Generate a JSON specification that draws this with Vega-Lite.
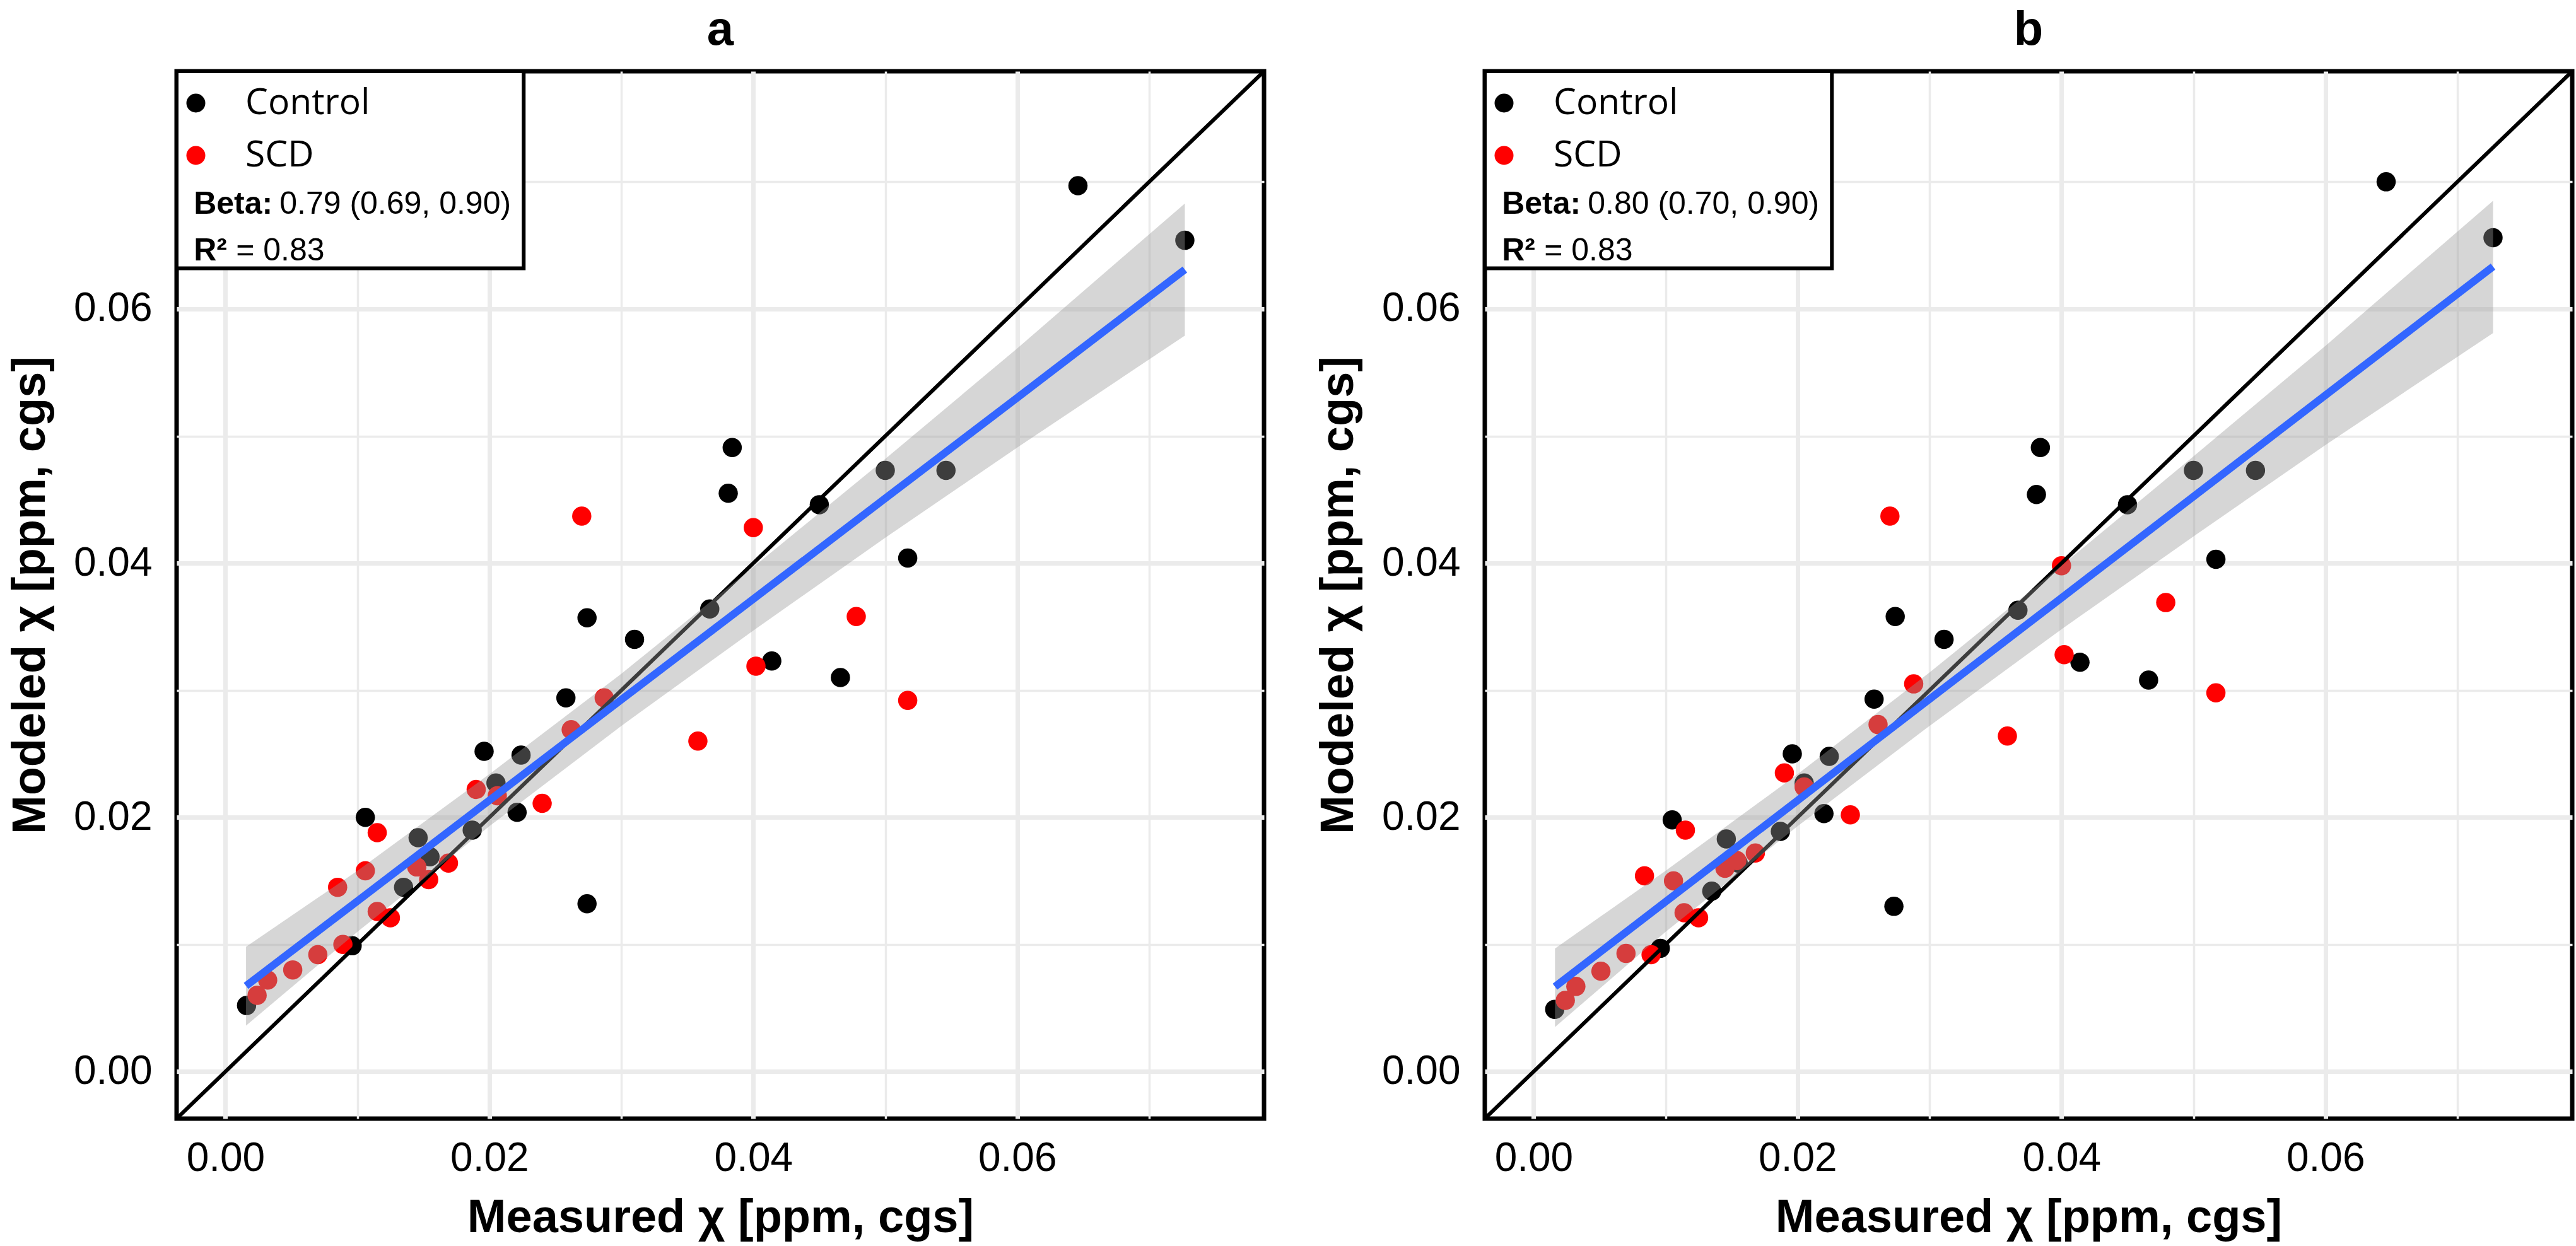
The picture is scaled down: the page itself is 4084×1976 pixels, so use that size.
{
  "$schema": "https://vega.github.io/schema/vega-lite/v6.json",
  "background": "white",
  "padding": {"left": 7, "top": 6, "right": 5, "bottom": 0},
  "config": {
    "view": {"stroke": "black", "strokeWidth": 7},
    "axis": {"domain": false, "ticks": false, "labelFont": "Liberation Sans", "labelFontSize": 64, "labelColor": "black", "titleFont": "Liberation Sans", "titleFontSize": 74, "titleFontWeight": "bold", "titleColor": "black", "gridColor": "#EBEBEB", "labelOverlap": false, "labelFlush": false},
    "title": {"font": "Liberation Sans", "fontSize": 76, "fontWeight": "bold", "color": "black", "anchor": "middle", "baseline": "alphabetic", "offset": 23},
    "legend": {"symbolType": "circle", "symbolSize": 900, "symbolStrokeWidth": 0, "symbolOpacity": 1, "labelFont": "Open Sans", "labelFontSize": 57, "labelColor": "black", "labelOffset": 50, "labelLimit": 1000, "rowPadding": 25, "padding": 0}
  },
  "datasets": {
    "pa": [
      {"group": "Control", "x": 0.0016, "y": 0.0052}, {"group": "Control", "x": 0.0096, "y": 0.0099}, {"group": "Control", "x": 0.0106, "y": 0.0200}, {"group": "Control", "x": 0.0146, "y": 0.0184}, {"group": "Control", "x": 0.0135, "y": 0.0145}, {"group": "Control", "x": 0.0155, "y": 0.0169}, {"group": "Control", "x": 0.0187, "y": 0.0190}, {"group": "Control", "x": 0.0196, "y": 0.0252}, {"group": "Control", "x": 0.0205, "y": 0.0227}, {"group": "Control", "x": 0.0221, "y": 0.0204}, {"group": "Control", "x": 0.0224, "y": 0.0249}, {"group": "Control", "x": 0.0258, "y": 0.0294}, {"group": "Control", "x": 0.0274, "y": 0.0357}, {"group": "Control", "x": 0.0274, "y": 0.0132}, {"group": "Control", "x": 0.0310, "y": 0.0340}, {"group": "Control", "x": 0.0367, "y": 0.0364}, {"group": "Control", "x": 0.0381, "y": 0.0455}, {"group": "Control", "x": 0.0384, "y": 0.0491}, {"group": "Control", "x": 0.0414, "y": 0.0323}, {"group": "Control", "x": 0.0450, "y": 0.0446}, {"group": "Control", "x": 0.0466, "y": 0.0310}, {"group": "Control", "x": 0.0500, "y": 0.0473}, {"group": "Control", "x": 0.0517, "y": 0.0404}, {"group": "Control", "x": 0.0546, "y": 0.0473}, {"group": "Control", "x": 0.0646, "y": 0.0697}, {"group": "Control", "x": 0.0727, "y": 0.0654},
      {"group": "SCD", "x": 0.0024, "y": 0.0060}, {"group": "SCD", "x": 0.0032, "y": 0.0072}, {"group": "SCD", "x": 0.0051, "y": 0.0080}, {"group": "SCD", "x": 0.0070, "y": 0.0092}, {"group": "SCD", "x": 0.0085, "y": 0.0145}, {"group": "SCD", "x": 0.0089, "y": 0.0100}, {"group": "SCD", "x": 0.0106, "y": 0.0158}, {"group": "SCD", "x": 0.0115, "y": 0.0188}, {"group": "SCD", "x": 0.0115, "y": 0.0126}, {"group": "SCD", "x": 0.0125, "y": 0.0121}, {"group": "SCD", "x": 0.0145, "y": 0.0161}, {"group": "SCD", "x": 0.0154, "y": 0.0151}, {"group": "SCD", "x": 0.0169, "y": 0.0164}, {"group": "SCD", "x": 0.0190, "y": 0.0222}, {"group": "SCD", "x": 0.0206, "y": 0.0217}, {"group": "SCD", "x": 0.0240, "y": 0.0211}, {"group": "SCD", "x": 0.0262, "y": 0.0269}, {"group": "SCD", "x": 0.0270, "y": 0.0437}, {"group": "SCD", "x": 0.0287, "y": 0.0294}, {"group": "SCD", "x": 0.0358, "y": 0.0260}, {"group": "SCD", "x": 0.0400, "y": 0.0428}, {"group": "SCD", "x": 0.0402, "y": 0.0319}, {"group": "SCD", "x": 0.0478, "y": 0.0358}, {"group": "SCD", "x": 0.0517, "y": 0.0292}
    ],
    "pb": [
      {"group": "Control", "x": 0.0016, "y": 0.0049}, {"group": "Control", "x": 0.0096, "y": 0.0097}, {"group": "Control", "x": 0.0105, "y": 0.0198}, {"group": "Control", "x": 0.0146, "y": 0.0183}, {"group": "Control", "x": 0.0135, "y": 0.0142}, {"group": "Control", "x": 0.0155, "y": 0.0164}, {"group": "Control", "x": 0.0187, "y": 0.0189}, {"group": "Control", "x": 0.0196, "y": 0.0250}, {"group": "Control", "x": 0.0205, "y": 0.0227}, {"group": "Control", "x": 0.0220, "y": 0.0203}, {"group": "Control", "x": 0.0224, "y": 0.0248}, {"group": "Control", "x": 0.0258, "y": 0.0293}, {"group": "Control", "x": 0.0274, "y": 0.0358}, {"group": "Control", "x": 0.0273, "y": 0.0130}, {"group": "Control", "x": 0.0311, "y": 0.0340}, {"group": "Control", "x": 0.0367, "y": 0.0363}, {"group": "Control", "x": 0.0381, "y": 0.0454}, {"group": "Control", "x": 0.0384, "y": 0.0491}, {"group": "Control", "x": 0.0414, "y": 0.0322}, {"group": "Control", "x": 0.0450, "y": 0.0446}, {"group": "Control", "x": 0.0466, "y": 0.0308}, {"group": "Control", "x": 0.0500, "y": 0.0473}, {"group": "Control", "x": 0.0517, "y": 0.0403}, {"group": "Control", "x": 0.0547, "y": 0.0473}, {"group": "Control", "x": 0.0646, "y": 0.0700}, {"group": "Control", "x": 0.0727, "y": 0.0656},
      {"group": "SCD", "x": 0.0024, "y": 0.0056}, {"group": "SCD", "x": 0.0032, "y": 0.0067}, {"group": "SCD", "x": 0.0051, "y": 0.0079}, {"group": "SCD", "x": 0.0070, "y": 0.0093}, {"group": "SCD", "x": 0.0084, "y": 0.0154}, {"group": "SCD", "x": 0.0089, "y": 0.0092}, {"group": "SCD", "x": 0.0106, "y": 0.0150}, {"group": "SCD", "x": 0.0115, "y": 0.0190}, {"group": "SCD", "x": 0.0114, "y": 0.0125}, {"group": "SCD", "x": 0.0125, "y": 0.0121}, {"group": "SCD", "x": 0.0145, "y": 0.0160}, {"group": "SCD", "x": 0.0154, "y": 0.0166}, {"group": "SCD", "x": 0.0168, "y": 0.0172}, {"group": "SCD", "x": 0.0190, "y": 0.0235}, {"group": "SCD", "x": 0.0205, "y": 0.0224}, {"group": "SCD", "x": 0.0240, "y": 0.0202}, {"group": "SCD", "x": 0.0261, "y": 0.0273}, {"group": "SCD", "x": 0.0270, "y": 0.0437}, {"group": "SCD", "x": 0.0288, "y": 0.0305}, {"group": "SCD", "x": 0.0359, "y": 0.0264}, {"group": "SCD", "x": 0.0400, "y": 0.0398}, {"group": "SCD", "x": 0.0402, "y": 0.0328}, {"group": "SCD", "x": 0.0479, "y": 0.0369}, {"group": "SCD", "x": 0.0517, "y": 0.0298}
    ],
    "fa": [
      {"x": 0.00156, "fit": 0.00674, "lo": 0.00362, "hi": 0.00982},
      {"x": 0.01, "fit": 0.01342, "lo": 0.0110, "hi": 0.0158},
      {"x": 0.02, "fit": 0.02134, "lo": 0.0193, "hi": 0.0234},
      {"x": 0.03, "fit": 0.02926, "lo": 0.0272, "hi": 0.0313},
      {"x": 0.04, "fit": 0.03718, "lo": 0.0347, "hi": 0.0397},
      {"x": 0.05, "fit": 0.0451, "lo": 0.0420, "hi": 0.0482},
      {"x": 0.06, "fit": 0.05302, "lo": 0.0491, "hi": 0.0569},
      {"x": 0.0727, "fit": 0.0631, "lo": 0.0579, "hi": 0.0683}
    ],
    "fb": [
      {"x": 0.00162, "fit": 0.00668, "lo": 0.0035, "hi": 0.00968},
      {"x": 0.01, "fit": 0.01336, "lo": 0.0110, "hi": 0.0158},
      {"x": 0.02, "fit": 0.02133, "lo": 0.0193, "hi": 0.0234},
      {"x": 0.03, "fit": 0.0293, "lo": 0.0272, "hi": 0.0314},
      {"x": 0.04, "fit": 0.03727, "lo": 0.0348, "hi": 0.0398},
      {"x": 0.05, "fit": 0.04524, "lo": 0.0421, "hi": 0.0484},
      {"x": 0.06, "fit": 0.05321, "lo": 0.0493, "hi": 0.0571},
      {"x": 0.0727, "fit": 0.06333, "lo": 0.0581, "hi": 0.0685}
    ]
  },
  "spacing": 73,
  "resolve": {"legend": {"color": "independent"}, "scale": {"color": "independent"}},
  "hconcat": [
    {
      "title": {"text": "a"},
      "width": 1724,
      "height": 1661,
      "layer": [
        {
          "data": {"name": "pa"},
          "mark": {"type": "point", "filled": true, "size": 930, "opacity": 1, "strokeWidth": 0},
          "encoding": {
            "x": {"field": "x", "type": "quantitative", "title": "Measured χ [ppm, cgs]",
              "scale": {"domain": [-0.0037, 0.0787], "nice": false, "zero": false},
              "axis": {"values": [0, 0.01, 0.02, 0.03, 0.04, 0.05, 0.06, 0.07], "labelExpr": "round(datum.value*100) % 2 === 0 ? format(datum.value, '.2f') : ''", "gridWidth": {"condition": {"test": "round(datum.value*100) % 2 === 0", "value": 7}, "value": 3.5}, "labelPadding": 31, "titlePadding": 26}},
            "y": {"field": "y", "type": "quantitative", "title": "Modeled χ [ppm, cgs]",
              "scale": {"domain": [-0.0037, 0.0787], "nice": false, "zero": false},
              "axis": {"values": [0, 0.01, 0.02, 0.03, 0.04, 0.05, 0.06, 0.07], "labelExpr": "round(datum.value*100) % 2 === 0 ? format(datum.value, '.2f') : ''", "gridWidth": {"condition": {"test": "round(datum.value*100) % 2 === 0", "value": 7}, "value": 3.5}, "labelPadding": 39, "titlePadding": 30}},
            "color": {"field": "group", "type": "nominal", "scale": {"domain": ["Control", "SCD"], "range": ["#000000", "#FF0000"]}, "legend": {"orient": "none", "legendX": 2, "legendY": 22, "title": null}}
          }
        },
        {
          "data": {"values": [{}]},
          "mark": {"type": "rule", "color": "black", "strokeWidth": 6, "clip": true},
          "encoding": {"x": {"datum": -0.0037}, "y": {"datum": -0.0037}, "x2": {"datum": 0.0787}, "y2": {"datum": 0.0787}}
        },
        {
          "data": {"name": "fa"},
          "mark": {"type": "area", "color": "#999999", "opacity": 0.4},
          "encoding": {"x": {"field": "x", "type": "quantitative"}, "y": {"field": "lo", "type": "quantitative"}, "y2": {"field": "hi"}}
        },
        {
          "data": {"name": "fa"},
          "mark": {"type": "line", "color": "#3366FF", "strokeWidth": 12},
          "encoding": {"x": {"field": "x", "type": "quantitative"}, "y": {"field": "fit", "type": "quantitative"}}
        },
        {
          "data": {"values": [{}]},
          "mark": {"type": "rect", "fill": "white", "stroke": "black", "strokeWidth": 6},
          "encoding": {"x": {"datum": -0.0037}, "x2": {"datum": 0.0226}, "y": {"datum": 0.0787}, "y2": {"datum": 0.0632}}
        },
        {
          "data": {"values": [{}]},
          "mark": {"type": "text", "text": "Beta:", "font": "Liberation Sans", "fontSize": 50, "fontWeight": "bold", "align": "left", "baseline": "alphabetic", "color": "black"},
          "encoding": {"x": {"datum": -0.0024}, "y": {"datum": 0.0675}}
        },
        {
          "data": {"values": [{}]},
          "mark": {"type": "text", "text": "0.79 (0.69, 0.90)", "font": "Liberation Sans", "fontSize": 50, "fontWeight": "normal", "align": "left", "baseline": "alphabetic", "color": "black"},
          "encoding": {"x": {"datum": 0.0041}, "y": {"datum": 0.0675}}
        },
        {
          "data": {"values": [{}]},
          "mark": {"type": "text", "text": "R²", "font": "Liberation Sans", "fontSize": 50, "fontWeight": "bold", "align": "left", "baseline": "alphabetic", "color": "black"},
          "encoding": {"x": {"datum": -0.0024}, "y": {"datum": 0.0638}}
        },
        {
          "data": {"values": [{}]},
          "mark": {"type": "text", "text": "= 0.83", "font": "Liberation Sans", "fontSize": 50, "fontWeight": "normal", "align": "left", "baseline": "alphabetic", "color": "black"},
          "encoding": {"x": {"datum": 0.0008}, "y": {"datum": 0.0638}}
        }
      ]
    },
    {
      "title": {"text": "b"},
      "width": 1724,
      "height": 1661,
      "layer": [
        {
          "data": {"name": "pb"},
          "mark": {"type": "point", "filled": true, "size": 930, "opacity": 1, "strokeWidth": 0},
          "encoding": {
            "x": {"field": "x", "type": "quantitative", "title": "Measured χ [ppm, cgs]",
              "scale": {"domain": [-0.0037, 0.0787], "nice": false, "zero": false},
              "axis": {"values": [0, 0.01, 0.02, 0.03, 0.04, 0.05, 0.06, 0.07], "labelExpr": "round(datum.value*100) % 2 === 0 ? format(datum.value, '.2f') : ''", "gridWidth": {"condition": {"test": "round(datum.value*100) % 2 === 0", "value": 7}, "value": 3.5}, "labelPadding": 31, "titlePadding": 26}},
            "y": {"field": "y", "type": "quantitative", "title": "Modeled χ [ppm, cgs]",
              "scale": {"domain": [-0.0037, 0.0787], "nice": false, "zero": false},
              "axis": {"values": [0, 0.01, 0.02, 0.03, 0.04, 0.05, 0.06, 0.07], "labelExpr": "round(datum.value*100) % 2 === 0 ? format(datum.value, '.2f') : ''", "gridWidth": {"condition": {"test": "round(datum.value*100) % 2 === 0", "value": 7}, "value": 3.5}, "labelPadding": 39, "titlePadding": 30}},
            "color": {"field": "group", "type": "nominal", "scale": {"domain": ["Control", "SCD"], "range": ["#000000", "#FF0000"]}, "legend": {"orient": "none", "legendX": 2, "legendY": 22, "title": null}}
          }
        },
        {
          "data": {"values": [{}]},
          "mark": {"type": "rule", "color": "black", "strokeWidth": 6, "clip": true},
          "encoding": {"x": {"datum": -0.0037}, "y": {"datum": -0.0037}, "x2": {"datum": 0.0787}, "y2": {"datum": 0.0787}}
        },
        {
          "data": {"name": "fb"},
          "mark": {"type": "area", "color": "#999999", "opacity": 0.4},
          "encoding": {"x": {"field": "x", "type": "quantitative"}, "y": {"field": "lo", "type": "quantitative"}, "y2": {"field": "hi"}}
        },
        {
          "data": {"name": "fb"},
          "mark": {"type": "line", "color": "#3366FF", "strokeWidth": 12},
          "encoding": {"x": {"field": "x", "type": "quantitative"}, "y": {"field": "fit", "type": "quantitative"}}
        },
        {
          "data": {"values": [{}]},
          "mark": {"type": "rect", "fill": "white", "stroke": "black", "strokeWidth": 6},
          "encoding": {"x": {"datum": -0.0037}, "x2": {"datum": 0.0226}, "y": {"datum": 0.0787}, "y2": {"datum": 0.0632}}
        },
        {
          "data": {"values": [{}]},
          "mark": {"type": "text", "text": "Beta:", "font": "Liberation Sans", "fontSize": 50, "fontWeight": "bold", "align": "left", "baseline": "alphabetic", "color": "black"},
          "encoding": {"x": {"datum": -0.0024}, "y": {"datum": 0.0675}}
        },
        {
          "data": {"values": [{}]},
          "mark": {"type": "text", "text": "0.80 (0.70, 0.90)", "font": "Liberation Sans", "fontSize": 50, "fontWeight": "normal", "align": "left", "baseline": "alphabetic", "color": "black"},
          "encoding": {"x": {"datum": 0.0041}, "y": {"datum": 0.0675}}
        },
        {
          "data": {"values": [{}]},
          "mark": {"type": "text", "text": "R²", "font": "Liberation Sans", "fontSize": 50, "fontWeight": "bold", "align": "left", "baseline": "alphabetic", "color": "black"},
          "encoding": {"x": {"datum": -0.0024}, "y": {"datum": 0.0638}}
        },
        {
          "data": {"values": [{}]},
          "mark": {"type": "text", "text": "= 0.83", "font": "Liberation Sans", "fontSize": 50, "fontWeight": "normal", "align": "left", "baseline": "alphabetic", "color": "black"},
          "encoding": {"x": {"datum": 0.0008}, "y": {"datum": 0.0638}}
        }
      ]
    }
  ]
}
